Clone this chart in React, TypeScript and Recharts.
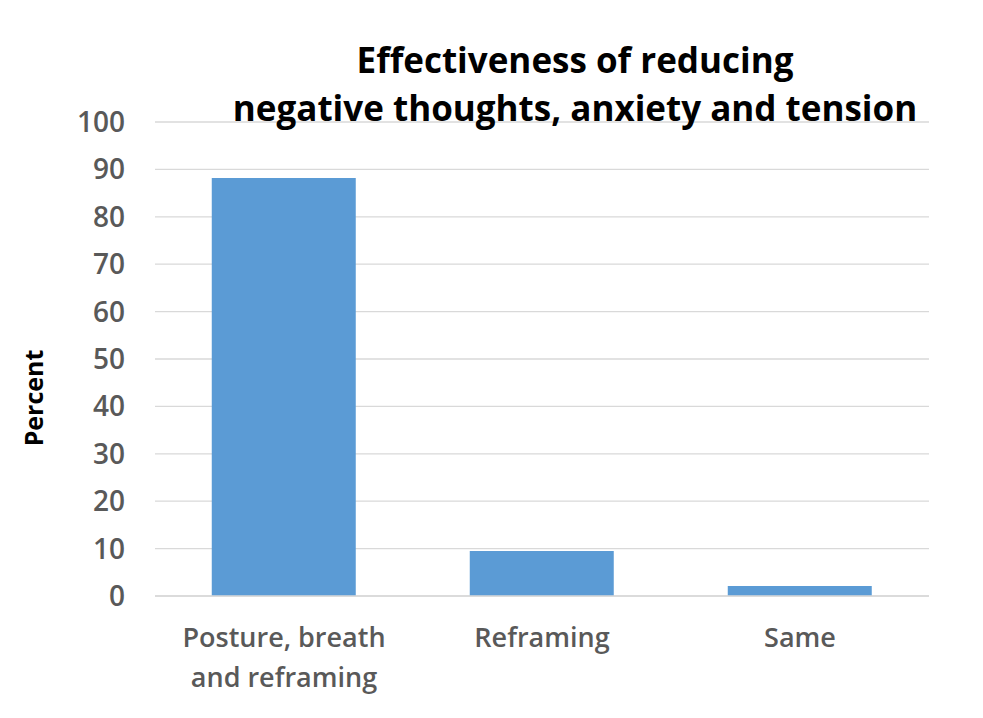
import { BarChart, Bar, XAxis, YAxis, CartesianGrid, Label } from "recharts";

const categories = ["Posture, breath\nand reframing", "Reframing", "Same"];
const percents = [88.2, 9.5, 2.1];
const yTicks = [0, 10, 20, 30, 40, 50, 60, 70, 80, 90, 100];

const data = categories.map((name, i) => ({ name, value: percents[i] }));

const FONT = "'Open Sans', 'Noto Sans', sans-serif";
const GREY = "#595959";

function CategoryTick(props: any) {
  const { x, y, payload } = props;
  const lines = String(payload.value).split("\n");
  return (
    <text
      x={x}
      y={y}
      textAnchor="middle"
      fill={GREY}
      fontFamily={FONT}
      fontWeight={600}
      fontSize={27}
    >
      {lines.map((line, i) => (
        <tspan key={i} x={x} dy={i === 0 ? 43 : 40}>
          {line}
        </tspan>
      ))}
    </text>
  );
}

export default function App() {
  return (
    <div style={{ position: "absolute", left: 0, top: 0, width: 983, height: 718, background: "#fff" }}>
      <BarChart
        width={983}
        height={718}
        data={data}
        margin={{ top: 122, right: 54, bottom: 0, left: 0 }}
        barCategoryGap="22%"
      >
        <CartesianGrid vertical={false} stroke="#d9d9d9" strokeWidth={1.3} />
        <XAxis
          dataKey="name"
          tick={<CategoryTick />}
          tickLine={false}
          axisLine={{ stroke: "#d9d9d9", strokeWidth: 1.3 }}
          interval={0}
          height={122}
        />
        <YAxis
          width={155}
          domain={[0, 100]}
          ticks={yTicks}
          interval={0}
          axisLine={false}
          tickLine={false}
          tickSize={0}
          tickMargin={30}
          tick={{ fill: GREY, fontFamily: FONT, fontWeight: 600, fontSize: 28 }}
        >
          <Label
            content={() => (
              <text
                x={33}
                y={398}
                transform="rotate(-90 33 398)"
                textAnchor="middle"
                dominantBaseline="central"
                fill="#000"
                fontFamily={FONT}
                fontWeight={700}
                fontSize={25}
              >
                Percent
              </text>
            )}
          />
        </YAxis>
        <Bar dataKey="value" fill="#5b9bd5" isAnimationActive={false} />
      </BarChart>
      <div
        style={{
          position: "absolute",
          left: 175,
          width: 800,
          top: 36,
          textAlign: "center",
          fontFamily: FONT,
          fontWeight: 700,
          fontSize: 35,
          lineHeight: "48px",
          color: "#000",
        }}
      >
        Effectiveness of reducing
        <br />
        negative thoughts, anxiety and tension
      </div>
    </div>
  );
}
